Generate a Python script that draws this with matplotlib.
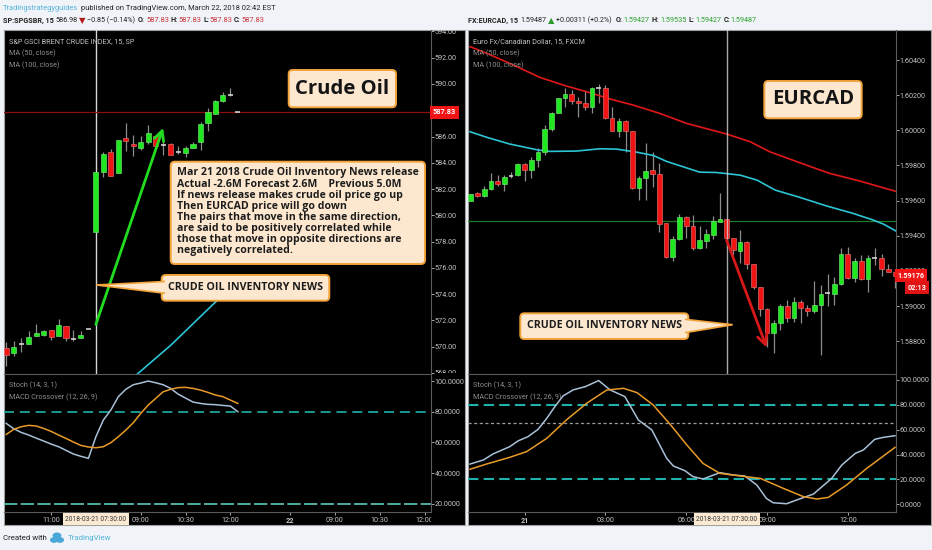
import numpy as np
import matplotlib
matplotlib.use("Agg")
import matplotlib.pyplot as plt
from matplotlib.patches import FancyBboxPatch, Polygon, Ellipse
from matplotlib.transforms import Bbox, blended_transform_factory

W, H = 932, 550

# left chart : S&P GSCI brent, bar 0 = 2018-03-21 07:30
left_first = -12
left_open = [569.87, 569.51, 570.17, 570.17, 570.83, 570.9, 571.27, 570.83, 571.55, 570.55, 570.63, 571.35,
             578.72, 583.27, 584.8, 583.22, 585.9, 585.46, 585.13, 585.59, 586.02, 585.36, 585.46, 584.82,
             584.75, 585.16, 585.59, 587.04, 587.73, 588.72, 589.15, 587.83]
left_high = [570.38, 570.45, 570.63, 571.17, 571.73, 571.27, 571.27, 572.1, 571.55, 571.27, 571.17, 571.35,
             583.27, 584.83, 585.03, 585.77, 587.0, 586.15, 586.02, 586.86, 586.1, 585.97, 585.5, 585.29,
             585.29, 585.6, 587.12, 588.14, 588.77, 589.41, 589.66, 587.83]
left_low = [568.54, 569.3, 569.56, 570.17, 570.8, 570.83, 570.5, 570.8, 570.4, 570.4, 570.63, 571.35,
            578.72, 582.92, 582.97, 583.2, 584.88, 584.5, 584.95, 585.46, 585.2, 584.62, 584.6, 584.7,
            584.44, 585.13, 584.95, 586.43, 587.7, 588.64, 589.08, 587.83]
left_close = [569.38, 570.0, 570.2, 570.76, 571.04, 571.17, 570.76, 571.68, 570.63, 570.55, 570.9, 571.35,
              583.27, 584.7, 583.0, 585.77, 585.67, 585.26, 585.57, 586.3, 585.28, 585.36, 584.62, 584.82,
              585.13, 585.44, 586.99, 587.88, 588.69, 589.15, 589.15, 587.83]
left_ma_idx = [5.5, 10, 16, 19]
left_ma = [567.9, 570.1, 573.4, 574.9]
left_stoch = [72.4, 68.9, 66.5, 64.8, 62.8, 60.9, 58.9, 57.2, 54.8, 52.4, 50.9, 49.6, 63.7, 74.6, 81.1, 89.8,
              94.6, 97.6, 98.7, 100, 98.9, 97.6, 95.2, 91.5, 88.9, 86.3, 85.4, 84.8, 84.6, 84.1, 83.7, 80]
left_macd = [65.2, 68.5, 70.2, 71.1, 70.7, 69.1, 67.2, 64.8, 62.6, 60.2, 58.0, 57.0, 56.5, 57.2, 59.8, 63.7,
             68, 72.8, 78.9, 84.3, 88.7, 93, 94.6, 95.7, 95.9, 95.2, 94.1, 92.6, 90.9, 89.8, 87.6, 85.4]
left_price_ticks = [568, 570, 572, 574, 576, 578, 580, 582, 584, 586, 590, 592, 594]
left_stoch_ticks = [20, 40, 60, 80, 100]
left_time_idx = [-6, 6, 12, 18, 26, 32, 38, 44]
left_time_lab = ["11:00", "09:00", "10:30", "12:00", "22", "09:00", "10:30", "12:00"]

# right chart : EURCAD, same bar 0
right_first = -38
right_open = [1.59599, 1.59641, 1.59627, 1.59664, 1.59709, 1.59696, 1.59741, 1.59743, 1.59806, 1.59774, 1.59831,
              1.59876, 1.60005, 1.60100, 1.60182, 1.60208, 1.60167, 1.60153, 1.60130, 1.60239, 1.60242, 1.60068,
              1.59999, 1.60055, 1.59998, 1.59669, 1.59730, 1.59772, 1.59749, 1.59470, 1.59280, 1.59381, 1.59508,
              1.59455, 1.59330, 1.59371, 1.59407, 1.59479, 1.59498, 1.59385, 1.59314, 1.59366, 1.59238, 1.59106,
              1.58982, 1.58849, 1.58906, 1.58999, 1.58933, 1.59022, 1.58990, 1.58973, 1.59005, 1.59075, 1.59071,
              1.59123, 1.59295, 1.59157, 1.59254, 1.59153, 1.59274, 1.59276, 1.59210, 1.59195]
right_high = [1.59637, 1.59650, 1.59683, 1.59755, 1.59745, 1.59745, 1.59764, 1.59812, 1.59815, 1.59846, 1.59897,
              1.60030, 1.60106, 1.60186, 1.60239, 1.60229, 1.60191, 1.60225, 1.60244, 1.60263, 1.60258, 1.60134,
              1.60068, 1.60058, 1.59998, 1.59739, 1.59929, 1.59876, 1.59812, 1.59470, 1.59400, 1.59521, 1.59512,
              1.59517, 1.59455, 1.59436, 1.59512, 1.59645, 1.59498, 1.59388, 1.59432, 1.59369, 1.59242, 1.59109,
              1.58986, 1.58920, 1.59009, 1.59033, 1.59049, 1.59033, 1.59005, 1.59144, 1.59119, 1.59185, 1.59163,
              1.59328, 1.59337, 1.59271, 1.59293, 1.59290, 1.59331, 1.59295, 1.59242, 1.59208]
right_low = [1.59599, 1.59622, 1.59618, 1.59660, 1.59683, 1.59654, 1.59730, 1.59739, 1.59713, 1.59726, 1.59793,
             1.59857, 1.59996, 1.60096, 1.60130, 1.60148, 1.60074, 1.60115, 1.60100, 1.60153, 1.60064, 1.59998,
             1.59963, 1.59876, 1.59667, 1.59603, 1.59603, 1.59679, 1.59424, 1.59276, 1.59257, 1.59375, 1.59390,
             1.59318, 1.59326, 1.59328, 1.59381, 1.59479, 1.59337, 1.59290, 1.59246, 1.59210, 1.59096, 1.58942,
             1.58768, 1.58735, 1.58866, 1.58910, 1.58910, 1.58904, 1.58942, 1.58958, 1.58720, 1.59001, 1.59005,
             1.59119, 1.59153, 1.59134, 1.59147, 1.59081, 1.59233, 1.59172, 1.59191, 1.59100]
right_close = [1.59637, 1.59626, 1.59667, 1.59709, 1.59696, 1.59736, 1.59745, 1.59808, 1.59774, 1.59829, 1.59876,
               1.60005, 1.60100, 1.60182, 1.60208, 1.60167, 1.60153, 1.60130, 1.60241, 1.60243, 1.60068, 1.59999,
               1.60055, 1.59999, 1.59669, 1.59726, 1.59770, 1.59749, 1.59466, 1.59280, 1.59381, 1.59504, 1.59455,
               1.59328, 1.59375, 1.59409, 1.59483, 1.59497, 1.59385, 1.59318, 1.59366, 1.59242, 1.59106, 1.58982,
               1.58849, 1.58906, 1.58999, 1.58933, 1.59022, 1.58988, 1.58971, 1.59005, 1.59071, 1.59075, 1.59125,
               1.59295, 1.59157, 1.59254, 1.59153, 1.59271, 1.59274, 1.59208, 1.59195, 1.59172]
right_ma1_idx = [-38.1, -35.6, -32.2, -27.7, -23.8, -20.8, -17.3, -13.9, -9.9, -5.9, 0, 3.5, 6.4, 11.4, 15.3, 19.8, 25]
right_ma1 = [1.60476, 1.60438, 1.60381, 1.60301, 1.60252, 1.60220, 1.60178, 1.60144, 1.60096, 1.60039, 1.59979,
             1.59935, 1.59878, 1.59808, 1.59755, 1.59711, 1.59654]
right_ma2_idx = [-38.1, -35.6, -32.2, -28, -26.2, -22.3, -18.8, -16.3, -13.4, -10.9, -8.9, -6.9, -4, -1.5, 2, 4.5,
                 7.2, 10.9, 14.9, 18.8, 21.8, 23.3, 25.1]
right_ma2 = [1.59992, 1.59960, 1.59922, 1.59888, 1.59880, 1.59882, 1.59895, 1.59893, 1.59876, 1.59857, 1.59823,
             1.59798, 1.59762, 1.59760, 1.59745, 1.59717, 1.59660, 1.59618, 1.59569, 1.59527, 1.59489, 1.59466, 1.59428]
right_stoch_idx = [-38.1, -36.1, -34.7, -32.2, -30.9, -29.5, -28, -26.7, -25.5, -24.3, -22.8, -21, -19, -17.3, -15.1,
                   -13.1, -11.1, -8.9, -7.9, -6.2, -5, -3.5, -1, 1, 2.7, 4.5, 5.9, 6.9, 8.9, 10.4, 12.9, 15.6, 17.1,
                   19.1, 20.3, 22, 23.3, 25]
right_stoch = [32.4, 35.7, 40.5, 46.4, 51.2, 54.4, 60.3, 69.2, 78.6, 87.1, 92, 94.6, 99.5, 92, 86.6, 67.8, 59.8, 37,
               30.8, 27.1, 22.3, 20.4, 25.5, 23.6, 22.8, 15.5, 4.8, 1.3, 0.5, 3.5, 8.3, 20.9, 31.6, 41, 43.7, 52.3,
               53.9, 55.2]
right_macd_idx = [-38.1, -35.6, -32.2, -29.7, -26.7, -23.8, -20.8, -17.8, -15.3, -13.3, -10.9, -8.3, -5.9, -3.5, -1,
                  2.5, 5, 8.4, 11.4, 13.4, 15.1, 17.8, 20.8, 25]
right_macd = [28.2, 32.5, 37.8, 42.4, 53.1, 67.8, 81.2, 91.9, 93.3, 89.8, 79.9, 63.8, 47.7, 32.9, 24.9, 22.5, 20.9,
              12.9, 6.2, 4.3, 5.6, 15.5, 28.9, 45.8]
right_price_ticks = [1.588, 1.590, 1.592, 1.594, 1.596, 1.598, 1.600, 1.602, 1.604]
right_stoch_ticks = [0, 20, 40, 60, 80, 100]
right_time_idx = [-30, -18, -6, 6, 18]
right_time_lab = ["21", "03:00", "06:00", "09:00", "12:00"]

info_lines = ["Mar 21 2018 Crude Oil Inventory News release",
              "Actual -2.6M Forecast 2.6M    Previous 5.0M",
              "If news release makes crude oil price go up",
              "Then EURCAD price will go down",
              "The pairs that move in the same direction,",
              "are said to be positively correlated while",
              "those that move in opposite directions are",
              "negatively correlated."]

BG = "#f0f3f7"
GREEN = "#1fe81f"
RED = "#f01414"
WICK = "#8c8c8c"
TXT = "#c4c4c4"
DIM = "#8e8e8e"
TEAL = "#20b2aa"
BOLD = "Open Sans"
FS_HEAD = 5.4
FS_LEG = 5.2
FS_TICK = 5.2

plt.rcParams["font.family"] = ["Liberation Sans Narrow", "Roboto"]
fig = plt.figure(figsize=(W / 100, H / 100), dpi=100, facecolor=BG)


def px_axes(x0, y0, x1, y1, **kw):
    return fig.add_axes([x0 / W, 1 - y1 / H, (x1 - x0) / W, (y1 - y0) / H], **kw)


def ftext(x, y, s, **kw):
    kw.setdefault("va", "center")
    kw.setdefault("ha", "left")
    kw.setdefault("fontsize", FS_HEAD)
    kw.setdefault("color", "#222222")
    return fig.text(x / W, 1 - y / H, s, zorder=30, **kw)


def clip_labels(labels, x0, y0, x1, y1):
    box = Bbox.from_extents(x0, H - y1, x1, H - y0)
    for lab in labels:
        lab.set_clip_box(box)
        lab.set_clip_on(True)


def candles(ax, first, o, h, l, c, width, doji_eps):
    o, h, l, c = map(np.array, (o, h, l, c))
    idx = np.arange(first, first + len(o))
    ax.vlines(idx, l, h, color=WICK, lw=0.9, zorder=3)
    is_doji = np.abs(c - o) <= doji_eps
    up = (c > o) & ~is_doji
    down = (c < o) & ~is_doji
    ax.bar(idx[up], (c - o)[up], width, bottom=o[up], color=GREEN, edgecolor="#7ff07f", lw=0.4, zorder=4)
    ax.bar(idx[down], (o - c)[down], width, bottom=c[down], color=RED, edgecolor="#f07f7f", lw=0.4, zorder=4)
    ax.hlines(o[is_doji], idx[is_doji] - width / 2, idx[is_doji] + width / 2, color="#e0e0e0", lw=1.1, zorder=4)


def style_panes(main, sub):
    for ax in (main, sub):
        ax.set_facecolor("none")
        ax.yaxis.tick_right()
        for s in ("left", "top"):
            ax.spines[s].set_visible(False)
        for s in ("right", "bottom"):
            ax.spines[s].set_color("#5a5a5a")
            ax.spines[s].set_linewidth(0.8)
        ax.tick_params(axis="y", colors=TXT, labelsize=FS_TICK, length=2, width=0.6, pad=0.8)
    main.set_xticks([])
    sub.tick_params(axis="x", colors=TXT, labelsize=FS_TICK, length=2, width=0.6, pad=1.5)


def box(x0, y0, x1, y1, pad=3):
    p = FancyBboxPatch((x0 + pad, H - y1 + pad), x1 - x0 - 2 * pad, y1 - y0 - 2 * pad,
                       boxstyle="round,pad=%d,rounding_size=%d" % (pad, pad + 1), transform=None,
                       facecolor="#fde8cf", edgecolor="#f2a33a", lw=1.4, zorder=20)
    fig.add_artist(p)


def pointer(pts):
    fig.add_artist(Polygon([(x, H - y) for x, y in pts], closed=False, transform=None,
                           facecolor="#fde8cf", edgecolor="#f2a33a", lw=1.2, zorder=21))


def date_label(ax):
    tr = blended_transform_factory(ax.transData, ax.transAxes)
    ax.text(0, -0.055, "2018-03-21 07:30:00", transform=tr, ha="center", va="center", fontsize=4.8, color="#333333",
            clip_on=False, zorder=12, bbox=dict(boxstyle="square,pad=0.35", fc="#fbe9d2", ec="none"))


# fond noir des deux panneaux
for x0, x1 in ((4, 465), (468, 931)):
    back = px_axes(x0, 30, x1, 525, facecolor="black")
    back.set_xticks([])
    back.set_yticks([])
    for s in back.spines.values():
        s.set_color("#a0a0a0")
        s.set_linewidth(0.8)

# ---- left chart
lm = px_axes(4, 30, 431, 373.5)
ls = px_axes(4, 374, 431, 511.7)
style_panes(lm, ls)
lx = (-12.3, 44.85)
lm.set_xlim(lx)
ls.set_xlim(lx)
lm.set_ylim(567.96, 594.11)
ls.set_ylim(14.8, 104.6)

lm.axvline(0, color="#d4d4d4", lw=1, zorder=2)
lm.axhline(left_close[-1], color="#8a1010", lw=0.9, zorder=2)
candles(lm, left_first, left_open, left_high, left_low, left_close, 0.68, 0.05)
lm.plot(left_ma_idx, left_ma, color="#2cc4d4", lw=1.2, zorder=3)
lm.annotate("", xy=(9, 586.66), xytext=(0, 571.7),
            arrowprops=dict(arrowstyle="->,head_length=0.7,head_width=0.35", color="#22dc22", lw=2, shrinkA=0, shrinkB=0),
            zorder=6)
lm.set_yticks(left_price_ticks)
lm.set_yticklabels(["%.2f" % v for v in left_price_ticks])
clip_labels(lm.get_yticklabels(), 431, 30, 465, 373)
lm.text(1.004, left_close[-1], "%.2f" % left_close[-1], transform=lm.get_yaxis_transform(), ha="left", va="center",
        color="white", fontsize=FS_TICK, fontweight="bold", clip_on=False, zorder=10,
        bbox=dict(boxstyle="square,pad=0.4", fc="#f01414", ec="none"))

lbars = np.arange(left_first, left_first + len(left_stoch))
ls.axhline(80, color=TEAL, lw=1.2, dashes=(6, 3.5), zorder=2)
ls.axhline(20, color="#5cc8b8", lw=1.2, dashes=(8, 2), zorder=2)
ls.plot(lbars, left_stoch, color="#a8c0d8", lw=1.1, zorder=3)
ls.plot(lbars, left_macd, color="#e89a28", lw=1.1, zorder=3)
ls.set_yticks(left_stoch_ticks)
ls.set_yticklabels(["%.4f" % v for v in left_stoch_ticks])
ls.set_xticks(left_time_idx)
ls.set_xticklabels(left_time_lab)
ls.get_xticklabels()[4].set_fontweight("bold")
clip_labels(ls.get_xticklabels(), 4, 512, 431, 525)
date_label(ls)

# ---- right chart
rm = px_axes(468, 30, 896, 373.5)
rs = px_axes(468, 374, 896, 511.7)
style_panes(rm, rs)
rx = (-38.4, 25.15)
rm.set_xlim(rx)
rs.set_xlim(rx)
rm.set_ylim(1.58616, 1.60571)
rs.set_ylim(-5.9, 104.8)

rm.axhline(right_close[-1] + 0.00311, color="#1e7a1e", lw=0.9, zorder=2)
candles(rm, right_first, right_open, right_high, right_low, right_close, 0.7, 0.00005)
rm.axvline(0, color="#d4d4d4", lw=1, zorder=5, alpha=0.8)
rm.plot(right_ma1_idx, right_ma1, color="#e01818", lw=1.2, zorder=3)
rm.plot(right_ma2_idx, right_ma2, color="#2cc4d4", lw=1.2, zorder=3)
rm.annotate("", xy=(5.95, 1.58764), xytext=(0, 1.59375),
            arrowprops=dict(arrowstyle="->,head_length=0.7,head_width=0.35", color="#d81818", lw=2, shrinkA=0, shrinkB=0),
            zorder=6)
rm.set_yticks(right_price_ticks)
rm.set_yticklabels(["%.5f" % v for v in right_price_ticks])
clip_labels(rm.get_yticklabels(), 896, 30, 931, 373)
rm.text(1.004, right_close[-1], "%.5f" % 1.59176, transform=rm.get_yaxis_transform(), ha="left", va="center",
        color="white", fontsize=FS_TICK, fontweight="bold", clip_on=False, zorder=10,
        bbox=dict(boxstyle="square,pad=0.35", fc="#f01414", ec="none"))
rm.text(1.026, right_close[-1] - 0.00068, "02:13", transform=rm.get_yaxis_transform(), ha="left", va="center",
        color="white", fontsize=FS_TICK, fontweight="bold", clip_on=False, zorder=10,
        bbox=dict(boxstyle="square,pad=0.35", fc="#e01414", ec="none"))

rs.axhline(80, color=TEAL, lw=1.5, dashes=(5, 2.5), zorder=2)
rs.axhline(20, color=TEAL, lw=1.5, dashes=(5, 2.5), zorder=2)
rs.axhline(65.7, color="#9a9a9a", lw=0.9, dashes=(2.5, 2), zorder=2)
rs.plot(right_stoch_idx, right_stoch, color="#a8c0d8", lw=1.1, zorder=3)
rs.plot(right_macd_idx, right_macd, color="#e89a28", lw=1.1, zorder=3)
rs.set_yticks(right_stoch_ticks)
rs.set_yticklabels(["%.4f" % v for v in right_stoch_ticks])
rs.set_xticks(right_time_idx)
rs.set_xticklabels(right_time_lab)
rs.get_xticklabels()[0].set_fontweight("bold")
date_label(rs)

# legendes dans les panneaux
for x, title in ((9, "S&P GSCI BRENT CRUDE INDEX, 15, SP"), (473, "Euro Fx/Canadian Dollar, 15, FXCM")):
    ftext(x, 41.5, title, color=TXT, fontsize=FS_LEG)
    ftext(x, 53, "MA (50, close)", color=DIM, fontsize=FS_LEG)
    ftext(x, 65, "MA (100, close)", color=DIM, fontsize=FS_LEG)
    ftext(x, 385, "Stoch (14, 3, 1)", color=DIM, fontsize=FS_LEG)
    ftext(x, 397, "MACD Crossover (12, 26, 9)", color=DIM, fontsize=FS_LEG)

# en-tete
ftext(3.3, 8, "Tradingstrategyguides", color="#54b4dc")
ftext(81, 8, "published on TradingView.com, March 22, 2018 02:42 EST")
RED_T = "#c8323c"
GRN_T = "#2ca02c"
ftext(3.3, 20.5, "SP:SPGSBR, 15", fontweight="bold", fontsize=5.2)
ftext(55, 20.5, "586.98", fontsize=5.2)
ftext(78.5, 20.5, "\u25bc", color="#b01818", family="DejaVu Sans", fontsize=6)
ftext(87, 20.5, "\u22120.85 (\u22120.14%)", fontsize=5.1)
for x, s in ((138, "O:"), (170.7, "H:"), (203, "L:"), (234, "C:")):
    ftext(x, 20.5, s, fontweight="bold", fontsize=5.2)
for x in (146, 178.7, 209.3, 241):
    ftext(x, 20.5, "587.83", color=RED_T)
ftext(467.7, 20.5, "FX:EURCAD, 15", fontweight="bold", fontsize=5.2)
ftext(520.3, 20.5, "1.59487", fontsize=5.2)
ftext(547.5, 20.5, "\u25b2", color="#2c9a2c", family="DejaVu Sans", fontsize=6)
ftext(556.3, 20.5, "+0.00311 (+0.2%)", fontsize=5.1)
for x, s in ((615.3, "O:"), (652, "H:"), (688.7, "L:"), (723.7, "C:")):
    ftext(x, 20.5, s, fontweight="bold", fontsize=5.2)
for x, s in ((623.3, "1.59427"), (660.3, "1.59535"), (695, "1.59427"), (730.3, "1.59487")):
    ftext(x, 20.5, s, color=GRN_T, fontsize=5.2)

# pied de page
ftext(3.3, 537.7, "Created with", fontsize=5.7)
ftext(67.5, 537.7, "TradingView", color="#54b4dc", fontsize=5.7)
for cx, cy, rw, rh in ((54, 540, 5, 3.6), (60, 540, 5, 3.6), (57, 535.5, 5.5, 3.8)):
    fig.add_artist(Ellipse((cx, H - cy), rw * 1.6, rh * 1.6, transform=None, facecolor="#4aa8d8", edgecolor="none", zorder=20))

# encadres
box(288.7, 70, 396, 107.3)
ftext(342.3, 88.5, "Crude Oil", family=BOLD, fontweight="bold", fontsize=14.6, ha="center", color="#141414")
box(764.3, 81, 861.7, 118.3)
ftext(813, 99.5, "EURCAD", family=BOLD, fontweight="bold", fontsize=14.6, ha="center", color="#141414")
box(170.7, 161.7, 425, 264)
for k, line in enumerate(info_lines):
    ftext(177, 173 + k * 11.1, line, family=BOLD, fontweight="bold", fontsize=7.6, color="#1c1c1c")
box(161.7, 275, 329.3, 300.7)
pointer([(165, 281.5), (96.3, 285), (165, 293.3)])
ftext(245.5, 287, "CRUDE OIL INVENTORY NEWS", family=BOLD, fontweight="bold", fontsize=7.7, ha="center", color="#1c1c1c")
box(520.3, 313.3, 688.3, 339)
pointer([(685, 319.3), (732.7, 324.7), (685, 332.7)])
ftext(604.3, 325, "CRUDE OIL INVENTORY NEWS", family=BOLD, fontweight="bold", fontsize=7.7, ha="center", color="#1c1c1c")

fig.savefig("out.png", dpi=100, facecolor=BG)
